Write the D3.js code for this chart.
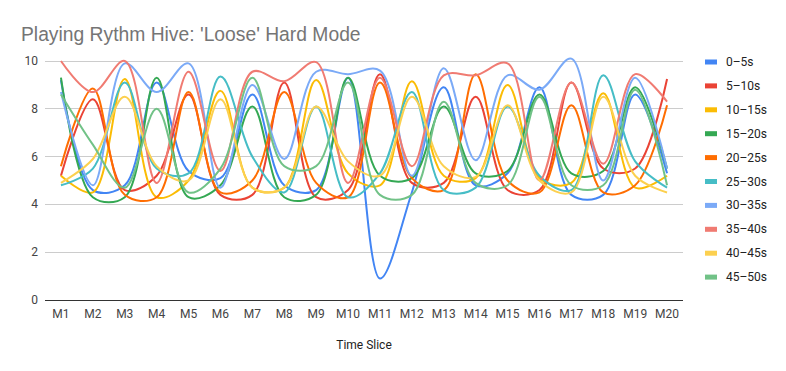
<!DOCTYPE html>
<html>
<head>
<meta charset="utf-8">
<script src="https://cdn.jsdelivr.net/npm/d3@7"></script>
<style>
  body { margin: 0; background: #fff; }
  text { font-family: Roboto, Arial, sans-serif; }
</style>
</head>
<body>
<div id="chart"></div>
<script>
// time slices on the x axis
const slices = ['M1','M2','M3','M4','M5','M6','M7','M8','M9','M10','M11','M12','M13','M14','M15','M16','M17','M18','M19','M20'];

// one array per series
const s0_5   = [9.2, 4.6, 4.8, 9.1, 5.4, 5.1, 8.6, 4.8, 4.6, 9.3, 0.9, 4.5, 8.9, 4.8, 5.3, 8.9, 4.4, 4.4, 8.6, 5.3];
const s5_10  = [5.2, 8.4, 4.6, 5.2, 8.6, 4.4, 4.4, 9.1, 4.3, 4.6, 9.45, 4.9, 4.9, 8.5, 4.6, 4.6, 9.1, 5.5, 5.5, 9.25];
const s10_15 = [5.2, 4.5, 9.25, 4.3, 5.0, 8.75, 4.7, 4.7, 9.2, 5.3, 4.8, 9.15, 5.2, 5.1, 9.0, 5.1, 4.9, 8.65, 4.7, 5.2];
const s15_20 = [9.3, 4.3, 4.3, 9.3, 4.3, 4.8, 8.1, 4.3, 4.4, 9.3, 5.2, 5.1, 8.1, 5.3, 5.4, 8.6, 5.3, 5.4, 8.9, 5.5];
const s20_25 = [5.6, 8.85, 4.4, 4.3, 8.7, 4.5, 5.0, 8.7, 4.9, 4.3, 9.1, 5.1, 4.6, 9.45, 5.0, 4.5, 8.15, 4.5, 4.8, 8.15];
const s25_30 = [4.8, 5.5, 9.1, 5.5, 5.3, 9.35, 6.0, 4.5, 8.1, 4.3, 5.3, 8.7, 4.6, 4.7, 8.1, 5.2, 4.6, 9.4, 5.8, 4.7];
const s30_35 = [8.7, 4.8, 9.9, 8.7, 9.9, 4.7, 9.0, 5.9, 9.55, 9.45, 9.6, 5.2, 9.7, 5.85, 9.4, 8.8, 10.1, 5.0, 9.3, 5.5];
const s35_40 = [10.0, 8.7, 10.0, 4.9, 9.55, 5.4, 9.55, 9.15, 9.95, 4.9, 9.3, 5.6, 9.4, 9.4, 9.9, 5.0, 9.1, 5.7, 9.45, 8.3];
const s40_45 = [4.9, 5.9, 8.5, 5.6, 5.0, 8.4, 4.7, 4.7, 8.1, 5.8, 5.2, 8.5, 5.6, 5.15, 8.15, 5.0, 4.5, 8.5, 5.2, 4.5];
const s45_50 = [8.6, 6.5, 4.7, 8.0, 4.5, 5.5, 9.3, 5.6, 5.6, 9.1, 4.4, 4.4, 8.3, 4.9, 4.8, 8.5, 4.8, 4.8, 8.8, 4.8];

const seriesNames = ['0–5s','5–10s','10–15s','15–20s','20–25s','25–30s','30–35s','35–40s','40–45s','45–50s'];
const seriesValues = [s0_5, s5_10, s10_15, s15_20, s20_25, s25_30, s30_35, s35_40, s40_45, s45_50];
const colors = ['#4285f4','#ea4335','#fbbc04','#34a853','#ff6d01','#46bdc6','#7baaf7','#f07b72','#fcd04f','#71c287'];
const yTicks = [0, 2, 4, 6, 8, 10];

const width = 786, height = 371;
const margin = {top: 61, right: 103, bottom: 71, left: 45};

const svg = d3.select('#chart').append('svg')
    .attr('width', width)
    .attr('height', height);

const x = d3.scalePoint()
    .domain(slices)
    .range([margin.left, width - margin.right])
    .padding(0.5);

const y = d3.scaleLinear()
    .domain([0, 10])
    .range([height - margin.bottom, margin.top]);

// title
svg.append('text')
    .attr('x', 21)
    .attr('y', 41)
    .style('font-family', 'Arial, "Liberation Sans", sans-serif')
    .style('font-size', '19.3px')
    .attr('fill', '#757575')
    .text("Playing Rythm Hive: 'Loose' Hard Mode");

// gridlines
svg.append('g')
    .selectAll('line')
    .data(yTicks)
    .enter().append('line')
    .attr('x1', margin.left)
    .attr('x2', width - margin.right)
    .attr('y1', d => y(d))
    .attr('y2', d => y(d))
    .attr('stroke', d => d === 0 ? '#333' : '#ccc')
    .attr('stroke-width', 1)
    .attr('shape-rendering', 'crispEdges');

// y labels
svg.append('g')
    .selectAll('text')
    .data(yTicks)
    .enter().append('text')
    .attr('x', 38)
    .attr('y', d => y(d) + 4)
    .attr('text-anchor', 'end')
    .style('font-size', '12px')
    .attr('fill', '#444')
    .text(d => d);

// x labels
svg.append('g')
    .selectAll('text')
    .data(slices)
    .enter().append('text')
    .attr('x', d => x(d))
    .attr('y', 318)
    .attr('text-anchor', 'middle')
    .style('font-size', '12px')
    .attr('fill', '#444')
    .text(d => d);

svg.append('text')
    .attr('x', (margin.left + width - margin.right) / 2)
    .attr('y', 349)
    .attr('text-anchor', 'middle')
    .style('font-size', '12px')
    .attr('fill', '#222')
    .text('Time Slice');

// lines
const line = d3.line()
    .x((d, i) => x(slices[i]))
    .y(d => y(d))
    .curve(d3.curveCatmullRom.alpha(0.5));

svg.append('g')
    .selectAll('path')
    .data(seriesValues)
    .enter().append('path')
    .attr('d', line)
    .attr('fill', 'none')
    .attr('stroke', (d, i) => colors[i])
    .attr('stroke-width', 2);

// legend
const legend = svg.append('g')
    .selectAll('g')
    .data(seriesNames)
    .enter().append('g')
    .attr('transform', (d, i) => `translate(705, ${62 + i * 23.9})`);

legend.append('rect')
    .attr('x', 0)
    .attr('y', -2.5)
    .attr('width', 12)
    .attr('height', 5)
    .attr('fill', (d, i) => colors[i]);

legend.append('text')
    .attr('x', 21)
    .attr('y', 4)
    .style('font-size', '12px')
    .attr('fill', '#222')
    .text(d => d);
</script>
</body>
</html>
